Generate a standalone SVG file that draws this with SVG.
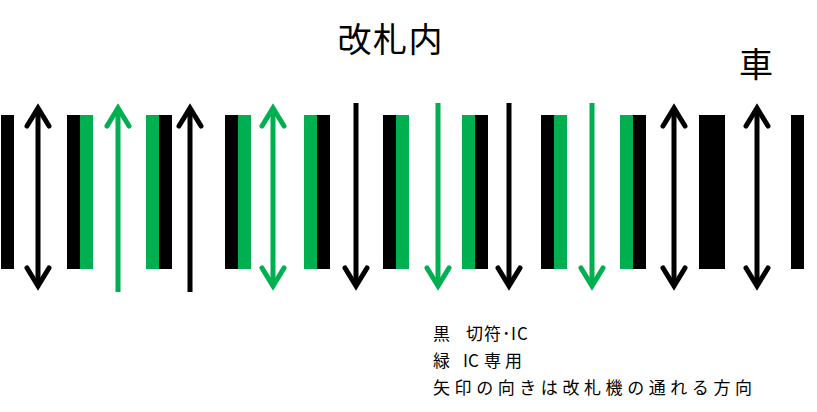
<svg xmlns="http://www.w3.org/2000/svg" width="817" height="412" viewBox="0 0 817 412">
  <style>
    .k { fill: #000000; }
    .g { fill: #00B050; }
    .ak { stroke: #000000; stroke-width: 5; fill: none; }
    .ag { stroke: #00B050; stroke-width: 5; fill: none; }
    .title { font-family: "Noto Sans CJK JP", "Noto Sans", sans-serif; font-size: 34px; fill: #000; }
    .legend { font-family: "Noto Sans CJK JP", "Noto Sans", sans-serif; font-size: 17px; fill: #000; }
  </style>
  <defs>
    <marker id="headK" viewBox="-25 -16 32 32" refX="0" refY="0" markerWidth="32" markerHeight="32" markerUnits="userSpaceOnUse" orient="auto-start-reverse">
      <path d="M -18 -11 L 0 0 L -18 11" fill="none" stroke="#000000" stroke-width="5" stroke-linejoin="miter" stroke-linecap="round"/>
    </marker>
    <marker id="headG" viewBox="-25 -16 32 32" refX="0" refY="0" markerWidth="32" markerHeight="32" markerUnits="userSpaceOnUse" orient="auto-start-reverse">
      <path d="M -18 -11 L 0 0 L -18 11" fill="none" stroke="#00B050" stroke-width="5" stroke-linejoin="miter" stroke-linecap="round"/>
    </marker>
  </defs>
  <rect width="817" height="412" fill="#ffffff"/>

  <text class="title" x="390" y="52" text-anchor="middle" textLength="105" lengthAdjust="spacing">改札内</text>
  <text class="title" x="756" y="77" text-anchor="middle">車</text>

  <g id="gate1"><rect class="k" x="1" y="115" width="13" height="154"/></g>
  <g id="gate2"><rect class="k" x="67" y="115" width="13" height="154"/><rect class="g" x="80" y="115" width="13" height="154"/></g>
  <g id="gate3"><rect class="g" x="146" y="115" width="13" height="154"/><rect class="k" x="159" y="115" width="13" height="154"/></g>
  <g id="gate4"><rect class="k" x="225" y="115" width="13" height="154"/><rect class="g" x="238" y="115" width="13" height="154"/></g>
  <g id="gate5"><rect class="g" x="304" y="115" width="13" height="154"/><rect class="k" x="317" y="115" width="13" height="154"/></g>
  <g id="gate6"><rect class="k" x="383" y="115" width="13" height="154"/><rect class="g" x="396" y="115" width="13" height="154"/></g>
  <g id="gate7"><rect class="g" x="462" y="115" width="13" height="154"/><rect class="k" x="475" y="115" width="13" height="154"/></g>
  <g id="gate8"><rect class="k" x="541" y="115" width="13" height="154"/><rect class="g" x="554" y="115" width="13" height="154"/></g>
  <g id="gate9"><rect class="g" x="620" y="115" width="13" height="154"/><rect class="k" x="633" y="115" width="13" height="154"/></g>
  <g id="gate10"><rect class="k" x="699" y="115" width="26" height="154"/></g>
  <g id="gate11"><rect class="k" x="791" y="115" width="13" height="154"/></g>

  <g id="connectors">
    <line class="ak" x1="38" y1="108" x2="38" y2="286" marker-start="url(#headK)" marker-end="url(#headK)"/>
    <line class="ag" x1="118" y1="292" x2="118" y2="108" marker-end="url(#headG)"/>
    <line class="ak" x1="190" y1="292" x2="190" y2="108" marker-end="url(#headK)"/>
    <line class="ag" x1="273" y1="108" x2="273" y2="286" marker-start="url(#headG)" marker-end="url(#headG)"/>
    <line class="ak" x1="356" y1="103" x2="356" y2="286" marker-end="url(#headK)"/>
    <line class="ag" x1="438" y1="103" x2="438" y2="286" marker-end="url(#headG)"/>
    <line class="ak" x1="509" y1="103" x2="509" y2="286" marker-end="url(#headK)"/>
    <line class="ag" x1="592" y1="103" x2="592" y2="286" marker-end="url(#headG)"/>
    <line class="ak" x1="674" y1="108" x2="674" y2="286" marker-start="url(#headK)" marker-end="url(#headK)"/>
    <line class="ak" x1="757" y1="108" x2="757" y2="286" marker-start="url(#headK)" marker-end="url(#headK)"/>
  </g>

  <g id="legend">
    <text class="legend" x="433 450 466 484 502 511 517" y="340">黒　切符･IC</text>
    <text class="legend" x="433 450 463 468 484 505" y="367">緑 IC専用</text>
    <text class="legend" x="433" y="394" textLength="319" lengthAdjust="spacing">矢印の向きは改札機の通れる方向</text>
  </g>
</svg>
